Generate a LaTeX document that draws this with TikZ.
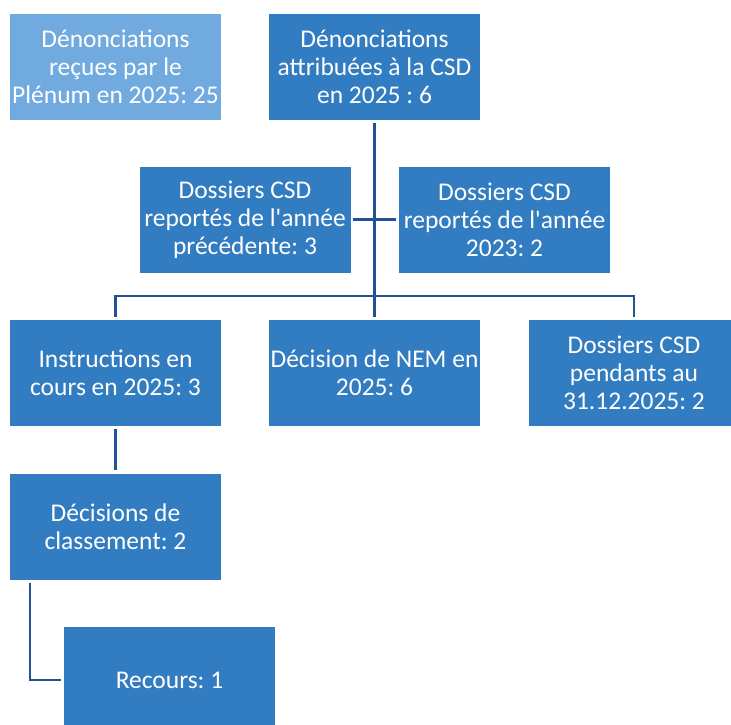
\documentclass[tikz,border=0pt]{standalone}
\usepackage{fontspec}
\setmainfont{Carlito}[Ligatures=TeXOff]
\definecolor{boxblue}{RGB}{50,124,193}
\definecolor{lightblue}{RGB}{112,170,222}
\definecolor{linecol}{RGB}{34,82,150}
\begin{document}
\frenchspacing
\begin{tikzpicture}[x=1pt,y=-1pt,
  box/.style={rectangle, fill=boxblue, text=white, minimum width=211pt, minimum height=106pt,
    align=center, inner sep=0pt, font=\fontsize{25.5}{28}\selectfont},
  lightbox/.style={box, fill=lightblue},
  conn/.style={draw=linecol, line width=2.6pt}]
\useasboundingbox (0,0) rectangle (731,724);
\clip (0,0) rectangle (731,724);
\node[lightbox] (A) at (115.5,67) {Dénonciations\\reçues par le\\Plénum en 2025: 25};
\node[box] (B) at (374.5,67) {Dénonciations\\attribuées à la CSD\\en 2025 : 6};
\node[box] (C) at (245,219.5) {Dossiers CSD\\reportés de l'année\\précédente: 3};
\node[box] (D) at (504.5,219.5) {Dossiers CSD\\reportés de l'année\\2023: 2};
\node[box] (E) at (115.5,373) {Instructions en\\cours en 2025: 3};
\node[box] (F) at (374.5,373) {Décision de NEM en\\2025: 6};
\node[box] (G) at (634,373) {Dossiers CSD\\pendants au\\31.12.2025: 2};
\node[box] (H) at (115.5,526.5) {Décisions de\\classement: 2};
\node[box] (I) at (169.5,680) {Recours: 1};
\coordinate (bus) at (374.5,296);
\draw[conn, shorten <=3pt, shorten >=3pt] (B) -- (F);
\draw[conn, shorten <=2pt, shorten >=3pt] (C) -- (D);
\draw[conn, shorten <=3pt, shorten >=3pt] (E.north) |- (bus) -| (G.north);
\draw[conn, shorten <=3pt, shorten >=3pt] (E) -- (H);
\draw[conn, shorten <=3pt, shorten >=3pt] ([xshift=-85.5pt]H.south) |- (I.west);
\end{tikzpicture}
\end{document}
